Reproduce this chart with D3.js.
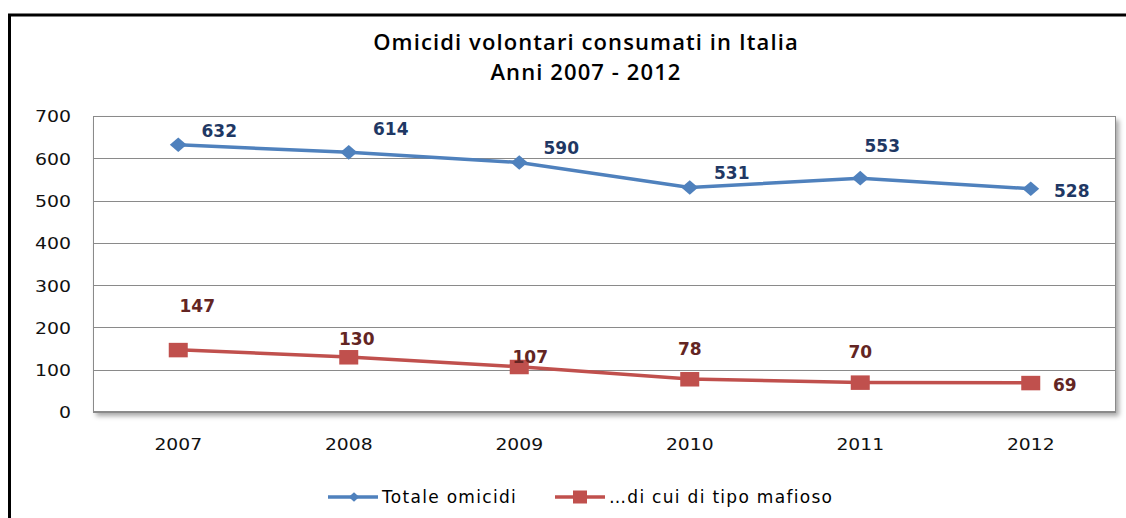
<!DOCTYPE html>
<html>
<head>
<meta charset="utf-8">
<script src="https://cdn.jsdelivr.net/npm/d3@7"></script>
<style>
  body { margin: 0; background: #fff; }
  svg { display: block; }
</style>
</head>
<body>
<svg></svg>
<script>
const years = ['2007', '2008', '2009', '2010', '2011', '2012'];
const totaleOmicidi = [632, 614, 590, 531, 553, 528];
const tipoMafioso = [147, 130, 107, 78, 70, 69];
const yTicks = [0, 100, 200, 300, 400, 500, 600, 700];

// manual label offsets (dx from marker, baseline dy from marker), as placed by hand in the sheet
const totaleLabelShift = [[41, -8], [42, -17], [42, -9], [42, -8], [22, -26], [41, 8]];
const mafiosoLabelShift = [[19, -38], [8, -12], [11, -4], [0, -24], [0, -24], [34, 8]];

const dimensions = { width: 1126, height: 518 };
const plot = { left: 93, top: 116, right: 1116, bottom: 412 };

const svg = d3.select('svg').attr('width', dimensions.width).attr('height', dimensions.height);

// shadow under the plot box
const defs = svg.append('defs');
defs.append('filter').attr('id', 'shadow')
  .attr('x', '-5%').attr('y', '-5%').attr('width', '110%').attr('height', '115%')
  .append('feDropShadow')
  .attr('dx', 3).attr('dy', 4).attr('stdDeviation', 2.5)
  .attr('flood-color', '#000').attr('flood-opacity', 0.35);

// outer frame, only left and top edges fit in the window
svg.append('rect')
  .attr('x', 9.5).attr('y', 15).attr('width', 1200).attr('height', 600)
  .attr('fill', 'none').attr('stroke', '#000').attr('stroke-width', 3);

const titleFont = '600 22px "Open Sans", sans-serif';
svg.append('text')
  .attr('x', 586).attr('y', 50)
  .attr('text-anchor', 'middle')
  .style('font', titleFont).style('letter-spacing', '1.1px')
  .attr('fill', '#000')
  .text('Omicidi volontari consumati in Italia');

svg.append('text')
  .attr('x', 586).attr('y', 80)
  .attr('text-anchor', 'middle')
  .style('font', titleFont).style('letter-spacing', '1.1px')
  .attr('fill', '#000')
  .text('Anni 2007 - 2012');

const x = d3.scaleBand().domain(years).range([plot.left, plot.right]);
const y = d3.scaleLinear().domain([0, 700]).range([plot.bottom, plot.top]);

svg.append('rect')
  .attr('x', plot.left).attr('y', plot.top)
  .attr('width', plot.right - plot.left).attr('height', plot.bottom - plot.top)
  .attr('fill', '#fff').attr('filter', 'url(#shadow)');

// grid
svg.append('g')
  .attr('transform', `translate(${plot.left},0)`)
  .call(d3.axisLeft(y).tickValues(yTicks).tickSize(-(plot.right - plot.left)).tickFormat(''))
  .call(g => g.select('.domain').remove())
  .call(g => g.selectAll('line').attr('stroke', '#8a8a8a').attr('shape-rendering', 'crispEdges'));

svg.append('rect')
  .attr('x', plot.left + 0.5).attr('y', plot.top + 0.5)
  .attr('width', plot.right - plot.left - 1).attr('height', plot.bottom - plot.top - 1)
  .attr('fill', 'none').attr('stroke', '#8a8a8a');

// y axis labels (the original font is drawn wide, so stretch it a bit)
svg.append('g')
  .attr('transform', 'translate(71,0)')
  .call(d3.axisLeft(y).tickValues(yTicks).tickSize(0).tickPadding(0))
  .call(g => g.select('.domain').remove())
  .call(g => g.selectAll('text')
    .attr('x', 0).attr('dy', '0.37em')
    .attr('transform', 'scale(1.18,1)')
    .style('font', '16px "DejaVu Sans", sans-serif')
    .attr('fill', '#111'));

// x axis labels
svg.append('g')
  .attr('transform', `translate(0,${plot.bottom + 38})`)
  .call(d3.axisBottom(x).tickSize(0).tickPadding(0))
  .call(g => g.select('.domain').remove())
  .call(g => g.selectAll('text')
    .attr('y', 0).attr('dy', 0)
    .attr('transform', 'scale(1.25,1)')
    .style('font', '15px "DejaVu Sans", sans-serif')
    .attr('fill', '#111'));

const cx = (d, i) => x(years[i]) + x.bandwidth() / 2;
const line = d3.line().x((d, i) => cx(d, i)).y(d => y(d));

const blue = '#4f81bd', red = '#c0504d';

svg.append('path').datum(totaleOmicidi)
  .attr('d', line).attr('fill', 'none').attr('stroke', blue).attr('stroke-width', 3.5);
svg.append('path').datum(tipoMafioso)
  .attr('d', line).attr('fill', 'none').attr('stroke', red).attr('stroke-width', 3.5);

svg.append('g').selectAll('path').data(totaleOmicidi).join('path')
  .attr('d', d3.symbol(d3.symbolDiamond2, 150))
  .attr('transform', (d, i) => `translate(${cx(d, i)},${y(d)}) scale(1.1,0.95)`)
  .attr('fill', blue);

svg.append('g').selectAll('rect').data(tipoMafioso).join('rect')
  .attr('x', (d, i) => cx(d, i) - 9.5).attr('y', d => y(d) - 7)
  .attr('width', 19).attr('height', 14.5)
  .attr('fill', red);

svg.append('g').selectAll('text').data(totaleOmicidi).join('text')
  .attr('x', (d, i) => cx(d, i) + totaleLabelShift[i][0])
  .attr('y', (d, i) => y(d) + totaleLabelShift[i][1])
  .attr('text-anchor', 'middle')
  .style('font', 'bold 17px "DejaVu Sans", sans-serif')
  .attr('fill', '#1f3864')
  .text(d => d);

svg.append('g').selectAll('text').data(tipoMafioso).join('text')
  .attr('x', (d, i) => cx(d, i) + mafiosoLabelShift[i][0])
  .attr('y', (d, i) => y(d) + mafiosoLabelShift[i][1])
  .attr('text-anchor', 'middle')
  .style('font', 'bold 17px "DejaVu Sans", sans-serif')
  .attr('fill', '#632523')
  .text(d => d);

// legend
const legend = svg.append('g').attr('transform', 'translate(0,497)');
const legendItems = [
  { name: 'Totale omicidi', color: blue, x: 328, marker: 'diamond' },
  { name: '\u2026di cui di tipo mafioso', color: red, x: 555, marker: 'square' }
];
legendItems.forEach(it => {
  legend.append('line').attr('x1', it.x).attr('x2', it.x + 50)
    .attr('stroke', it.color).attr('stroke-width', 3.5);
  if (it.marker === 'diamond') {
    legend.append('path').attr('d', d3.symbol(d3.symbolDiamond2, 70))
      .attr('transform', `translate(${it.x + 26},0) scale(1,0.9)`).attr('fill', it.color);
  } else {
    legend.append('rect').attr('x', it.x + 18).attr('y', -6.5).attr('width', 14).attr('height', 13)
      .attr('fill', it.color);
  }
  legend.append('text').attr('x', it.x + 54).attr('y', 6)
    .style('font', '17px "DejaVu Sans", sans-serif')
    .style('letter-spacing', '1.3px')
    .attr('fill', '#000')
    .text(it.name);
});
</script>
</body>
</html>
